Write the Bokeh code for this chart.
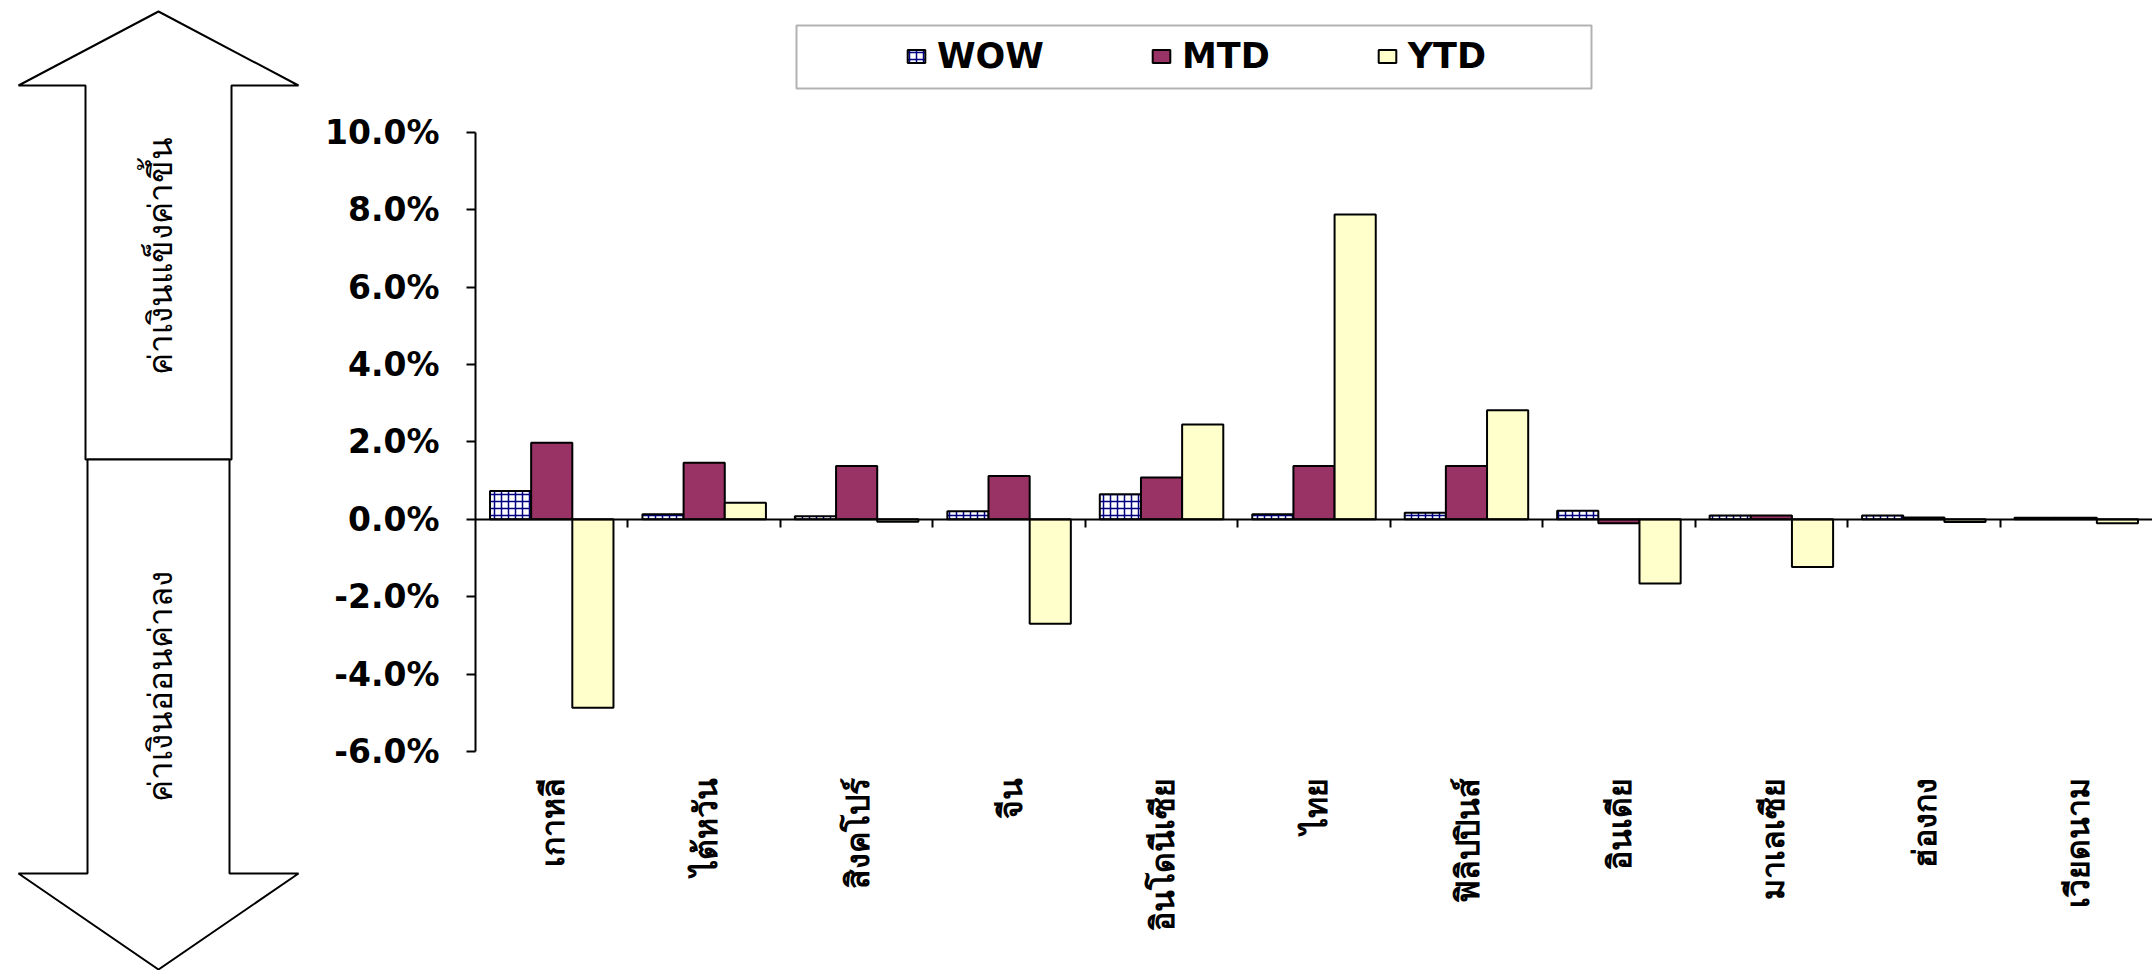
import math
from bokeh.plotting import figure
from bokeh.layouts import row
from bokeh.models import (ColumnDataSource, FixedTicker, Legend, LegendItem,
                          LinearAxis, BoxAnnotation)
from bokeh.transform import dodge
from bokeh.core.properties import value
from bokeh.embed import file_html
from bokeh.resources import INLINE

# ---------------- data ----------------
countries = ["เกาหลี", "ไต้หวัน", "สิงคโปร์", "จีน", "อินโดนีเซีย", "ไทย",
             "ฟิลิปปินส์", "อินเดีย", "มาเลเซีย", "ฮ่องกง", "เวียดนาม"]
wow = [0.73, 0.13, 0.08, 0.21, 0.65, 0.13, 0.17, 0.22, 0.10, 0.10, 0.04]
mtd = [1.98, 1.46, 1.38, 1.12, 1.08, 1.38, 1.38, -0.10, 0.10, 0.05, 0.04]
ytd = [-4.87, 0.43, -0.06, -2.70, 2.45, 7.88, 2.82, -1.66, -1.23, -0.07, -0.10]
y_ticks = [-6, -4, -2, 0, 2, 4, 6, 8, 10]
series_names = ["WOW", "MTD", "YTD"]
arrow_up_text = "ค่าเงินแข็งค่าขึ้น"
arrow_down_text = "ค่าเงินอ่อนค่าลง"

idx = list(range(len(countries)))
BOLD_FONT = "DejaVu Sans"
THAI_FONT = "Noto Sans"

W, H = 2152, 970
ARROW_W = 308

# ---------------- main chart ----------------
# frame spans from the top of the canvas down to the -6% line; the axis is bounded to -6..10
p = figure(width=W - ARROW_W, height=H, x_range=(-0.5, 10.5), y_range=(-6, 13.41),
           toolbar_location=None, output_backend="svg", frame_align=False,
           min_border_left=167, min_border_right=0, min_border_top=0,
           min_border_bottom=219)
p.title.visible = False
p.outline_line_color = None
p.grid.visible = False
p.background_fill_color = "white"

src = ColumnDataSource(dict(x=idx, wow=wow, mtd=mtd, ytd=ytd))
bw = 0.27
r_wow = p.vbar(x=dodge("x", -bw, range=p.x_range), top="wow", bottom=0, width=bw,
               source=src, fill_color="white", line_color="black", line_width=2,
               hatch_pattern="+", hatch_color="#000080", hatch_scale=7, hatch_weight=1.5)
r_mtd = p.vbar(x=dodge("x", 0, range=p.x_range), top="mtd", bottom=0, width=bw,
               source=src, fill_color="#993366", line_color="black", line_width=2)
r_ytd = p.vbar(x=dodge("x", bw, range=p.x_range), top="ytd", bottom=0, width=bw,
               source=src, fill_color="#FFFFCC", line_color="black", line_width=2)

# category labels (bottom)
xa = p.xaxis[0]
xa.ticker = FixedTicker(ticks=idx)
xa.major_label_overrides = {i: c for i, c in zip(idx, countries)}
xa.major_label_orientation = math.pi / 2
xa.axis_line_color = None
xa.major_tick_line_color = None
xa.minor_tick_line_color = None
xa.major_label_standoff = 20
xa.major_label_text_font = THAI_FONT
xa.major_label_text_font_style = "bold"
xa.major_label_text_font_size = "32px"
xa.major_label_text_color = "black"

# zero line with category-boundary ticks
tick_axis = LinearAxis(fixed_location=0,
                       ticker=FixedTicker(ticks=[i + 0.5 for i in idx[:-1]]),
                       major_label_overrides={i + 0.5: "" for i in idx[:-1]},
                       major_label_text_font_size="0px",
                       major_tick_out=8, major_tick_in=0,
                       axis_line_width=2, axis_line_color="black",
                       major_tick_line_width=2, major_tick_line_color="black",
                       minor_tick_line_color=None)
p.add_layout(tick_axis, "below")

ya = p.yaxis[0]
ya.bounds = (y_ticks[0], y_ticks[-1])
ya.ticker = FixedTicker(ticks=y_ticks)
ya.major_label_overrides = {t: f"{t:.1f}%" for t in y_ticks}
ya.major_tick_out = 9
ya.major_tick_in = 0
ya.minor_tick_line_color = None
ya.axis_line_width = 2
ya.axis_line_color = "black"
ya.major_tick_line_width = 2
ya.major_label_standoff = 27
ya.major_label_text_font = BOLD_FONT
ya.major_label_text_font_style = "bold"
ya.major_label_text_font_size = "33px"
ya.major_label_text_color = "black"

legend = Legend(items=[LegendItem(label=series_names[0], renderers=[r_wow]),
                       LegendItem(label=series_names[1], renderers=[r_mtd]),
                       LegendItem(label=series_names[2], renderers=[r_ytd])],
                orientation="horizontal", location=(426, 671), margin=0, padding=4,
                spacing=106, glyph_width=22, glyph_height=16, label_standoff=10,
                label_text_font=BOLD_FONT, label_text_font_style="bold",
                label_text_font_size="35px", label_text_color="black",
                border_line_alpha=0, background_fill_alpha=0)
p.add_layout(legend, "center")

legend_box = BoxAnnotation(left=321, right=1116, top=726, bottom=663,
                           left_units="screen", right_units="screen",
                           top_units="screen", bottom_units="screen",
                           fill_color=None, fill_alpha=0, line_color="black",
                           line_width=2)
p.add_layout(legend_box)

# ---------------- double arrow panel ----------------
a = figure(width=ARROW_W, height=H, x_range=(0, ARROW_W), y_range=(0, H),
           toolbar_location=None, output_backend="svg", min_border=0,
           frame_align=False, x_axis_location=None, y_axis_location=None)
a.title.visible = False
a.grid.visible = False
a.outline_line_color = None

def fy(py):
    return H - py

up_shape = [(158, 11), (298, 85), (231, 85), (231, 459), (85, 459), (85, 85), (18, 85)]
down_shape = [(87, 459), (229, 459), (229, 873), (298, 873), (158, 969), (18, 873), (87, 873)]
for shape in (up_shape, down_shape):
    a.patch([x for x, _ in shape], [fy(y) for _, y in shape],
            fill_color="white", line_color="black", line_width=2)

a.text(x=[159, 159], y=[fy(255), fy(686)], text=[arrow_up_text, arrow_down_text],
       angle=math.pi / 2, text_align="center", text_baseline="middle",
       text_font=value(THAI_FONT), text_font_size="33px", text_color="black")

layout = row(a, p, spacing=0)
open("out.html", "w").write(file_html(layout, INLINE, title="chart"))
